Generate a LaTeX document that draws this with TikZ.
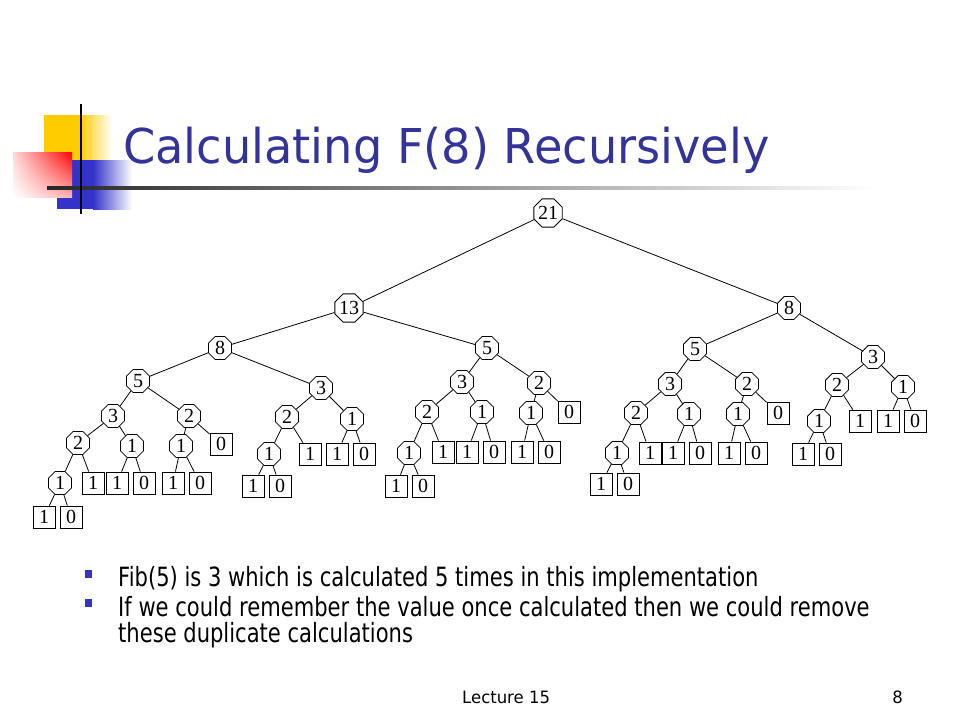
\documentclass[tikz,border=0pt]{standalone}
\usepackage{fontspec}
\setmainfont{DejaVu Sans}[FakeStretch=0.795]
\newfontfamily\titlefont{DejaVu Sans}[FakeStretch=0.964]
\newfontfamily\footfont{DejaVu Sans}[FakeStretch=0.97]
\newfontfamily\treefont{Liberation Serif}
\usetikzlibrary{shapes.geometric,positioning,shadings}

\definecolor{titleblue}{RGB}{51,51,153}
\definecolor{decoblue}{RGB}{51,51,204}
\definecolor{decoyellow}{RGB}{255,204,0}
\definecolor{decored}{RGB}{255,0,0}

\begin{document}
\begin{tikzpicture}[x=1pt,y=-1pt,node distance=27pt,
    oct/.style={draw,line width=0.8pt,regular polygon,regular polygon sides=8,minimum size=25pt,inner sep=0pt,fill=white,font=\treefont\fontsize{20}{20}\selectfont},
    leaf/.style={draw,line width=0.8pt,rectangle,minimum size=22pt,inner sep=0pt,fill=white,font=\treefont\fontsize{20}{20}\selectfont},
    bullet/.style={fill=decoblue,minimum width=7pt,minimum height=8pt,inner sep=0pt},
    note/.style={anchor=base west,inner sep=0pt,font=\fontsize{26.5}{26.5}\selectfont},
    every edge/.style={draw,line width=0.8pt}]
    \useasboundingbox (0,0) rectangle (960,720);

    % corner decoration
    \fill[decoyellow] (44,115) rectangle (80,160);
    \shade[left color=decoyellow,right color=white] (80,115) rectangle (112,160);
    \fill[decoblue] (57,160) rectangle (93,209);
    \shade[left color=decoblue,right color=white] (93,160) rectangle (132,209);
    \shade[upper left=decored!15,upper right=decored,lower left=white,lower right=decored!30] (13,152) rectangle (72,197);
    \shade[left color=black!85,right color=white] (47,186.5) rectangle (875,189.5);
    \draw[line width=2.5pt] (81,104) -- (81,214);

    \node[anchor=base west,inner sep=0pt,text=titleblue,font=\titlefont\fontsize{48}{48}\selectfont] (title) at (123,163) {Calculating F(8) Recursively};

    % the call tree
    \node[oct] (1) at (548,213) {21};
    \node[oct] (2) at (349,308) {13};
    \node[oct] (3) at (220,348) {8};
    \node[oct] (4) at (138,381) {5};
    \node[oct] (5) at (113,416) {3};
    \node[oct] (6) at (78,443) {2};
    \node[oct] (7) at (60,483) {1};
    \node[leaf] (8) at (44,517) {1};
    \node[leaf] (9) [right of=8] {0};
    \node[leaf] (10) at (93,483) {1};
    \node[oct] (11) at (132,446) {1};
    \node[leaf] (12) at (117,483) {1};
    \node[leaf] (13) [right of=12] {0};
    \node[oct] (14) at (189,416) {2};
    \node[oct] (15) at (181,446) {1};
    \node[leaf] (16) at (173,483) {1};
    \node[leaf] (17) [right of=16] {0};
    \node[leaf] (18) at (221,444) {0};
    \node[oct] (19) at (321,388) {3};
    \node[oct] (20) at (287,417) {2};
    \node[oct] (21) at (269,454) {1};
    \node[leaf] (22) at (253,486) {1};
    \node[leaf] (23) [right of=22] {0};
    \node[leaf] (24) at (310,454) {1};
    \node[oct] (25) at (352,419) {1};
    \node[leaf] (26) at (337,454) {1};
    \node[leaf] (27) [right of=26] {0};
    \node[oct] (28) at (487,348) {5};
    \node[oct] (29) at (462,382) {3};
    \node[oct] (30) at (427,412) {2};
    \node[oct] (31) at (409,453) {1};
    \node[leaf] (32) at (396,486) {1};
    \node[leaf] (33) [right of=32] {0};
    \node[leaf] (34) at (443,452) {1};
    \node[oct] (35) at (482,412) {1};
    \node[leaf] (36) at (467,452) {1};
    \node[leaf] (37) [right of=36] {0};
    \node[oct] (38) at (539,383) {2};
    \node[oct] (39) at (531,413) {1};
    \node[leaf] (40) at (522,452) {1};
    \node[leaf] (41) [right of=40] {0};
    \node[leaf] (42) at (569,412) {0};
    \node[oct] (43) at (789,308) {8};
    \node[oct] (44) at (695,349) {5};
    \node[oct] (45) at (670,384) {3};
    \node[oct] (46) at (636,413) {2};
    \node[oct] (47) at (617,453) {1};
    \node[leaf] (48) at (601,484) {1};
    \node[leaf] (49) [right of=48] {0};
    \node[leaf] (50) at (650,453) {1};
    \node[oct] (51) at (689,414) {1};
    \node[leaf] (52) at (673,453) {1};
    \node[leaf] (53) [right of=52] {0};
    \node[oct] (54) at (747,384) {2};
    \node[oct] (55) at (738,414) {1};
    \node[leaf] (56) at (729,453) {1};
    \node[leaf] (57) [right of=56] {0};
    \node[leaf] (58) at (778,413) {0};
    \node[oct] (59) at (873,357) {3};
    \node[oct] (60) at (837,385) {2};
    \node[oct] (61) at (819,421) {1};
    \node[leaf] (62) at (803,454) {1};
    \node[leaf] (63) [right of=62] {0};
    \node[leaf] (64) at (860,421) {1};
    \node[oct] (65) at (903,387) {1};
    \node[leaf] (66) at (888,421) {1};
    \node[leaf] (67) [right of=66] {0};

    \path (1) edge (2) edge (43);
    \path (2) edge (3) edge (28);
    \path (3) edge (4) edge (19);
    \path (4) edge (5) edge (14);
    \path (5) edge (6) edge (11);
    \path (6) edge (7) edge (10);
    \path (7) edge (8) edge (9);
    \path (11) edge (12) edge (13);
    \path (14) edge (15) edge (18);
    \path (15) edge (16) edge (17);
    \path (19) edge (20) edge (25);
    \path (20) edge (21) edge (24);
    \path (21) edge (22) edge (23);
    \path (25) edge (26) edge (27);
    \path (28) edge (29) edge (38);
    \path (29) edge (30) edge (35);
    \path (30) edge (31) edge (34);
    \path (31) edge (32) edge (33);
    \path (35) edge (36) edge (37);
    \path (38) edge (39) edge (42);
    \path (39) edge (40) edge (41);
    \path (43) edge (44) edge (59);
    \path (44) edge (45) edge (54);
    \path (45) edge (46) edge (51);
    \path (46) edge (47) edge (50);
    \path (47) edge (48) edge (49);
    \path (51) edge (52) edge (53);
    \path (54) edge (55) edge (58);
    \path (55) edge (56) edge (57);
    \path (59) edge (60) edge (65);
    \path (60) edge (61) edge (64);
    \path (61) edge (62) edge (63);
    \path (65) edge (66) edge (67);

    % notes
    \node[bullet] (dot1) at (88,574) {};
    \node[note] (note1) at (118,586) {Fib(5) is 3 which is calculated 5 times in this implementation};
    \node[bullet] (dot2) at (88,603) {};
    \node[note] (note2) at (118,616) {If we could remember the value once calculated then we could remove};
    \node[note] (note3) at (118,642) {these duplicate calculations};

    \node[anchor=base west,inner sep=0pt,font=\footfont\fontsize{17}{17}\selectfont] (footer) at (462,703) {Lecture 15};
    \node[anchor=base east,inner sep=0pt,font=\footfont\fontsize{17}{17}\selectfont] (page) at (903,703) {8};
\end{tikzpicture}
\end{document}
